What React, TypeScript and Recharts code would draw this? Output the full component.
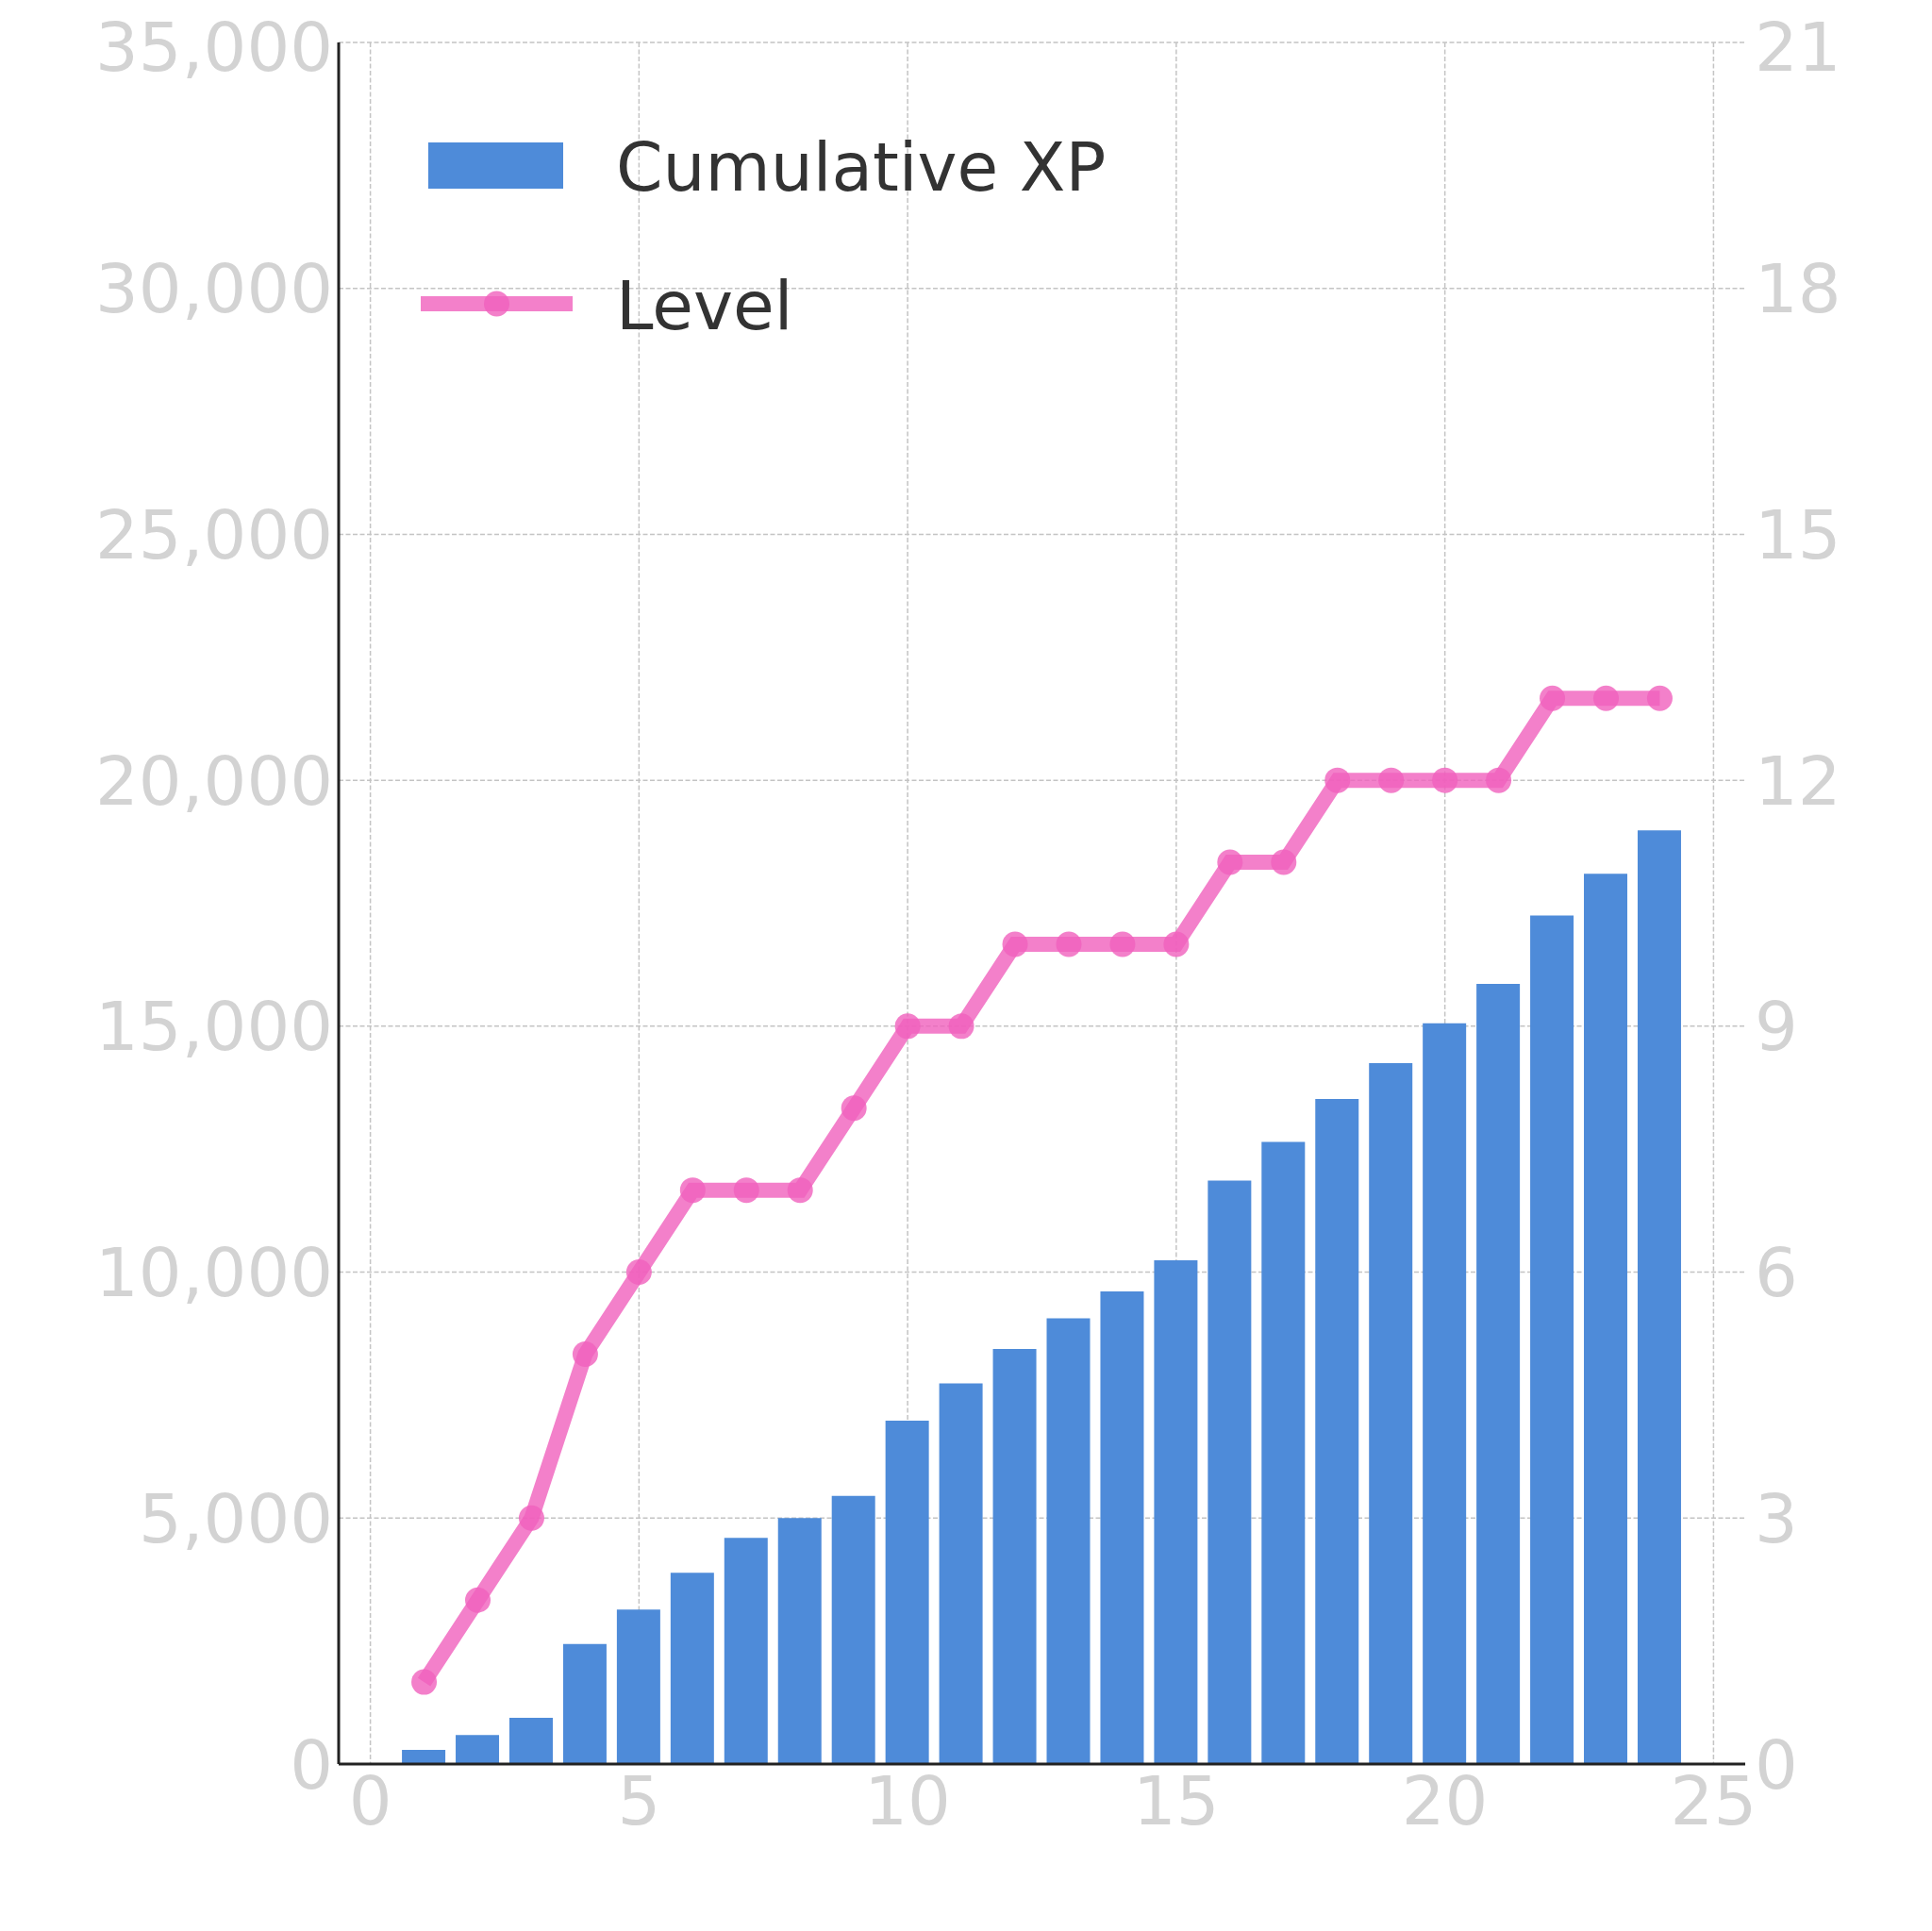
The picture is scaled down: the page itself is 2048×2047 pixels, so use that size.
import { Bar, CartesianGrid, ComposedChart, Legend, Line, XAxis, YAxis } from "recharts";

const LEVELS_X = [1, 2, 3, 4, 5, 6, 7, 8, 9, 10, 11, 12, 13, 14, 15, 16, 17, 18, 19, 20, 21, 22, 23, 24];
const CUMULATIVE_XP = [
  290, 590, 940, 2440, 3140, 3890, 4600, 5000, 5450, 6980, 7740, 8440, 9060, 9610, 10240, 11860, 12650, 13520,
  14250, 15060, 15860, 17250, 18100, 18980,
];
const LEVEL = [1, 2, 3, 5, 6, 7, 7, 7, 8, 9, 9, 10, 10, 10, 10, 11, 11, 12, 12, 12, 12, 13, 13, 13];

const X_TICKS = [0, 5, 10, 15, 20, 25];
const XP_TICKS = [0, 5000, 10000, 15000, 20000, 25000, 30000, 35000];
const LEVEL_TICKS = [0, 3, 6, 9, 12, 15, 18, 21];

const BLUE = "#4e8bd9";
const PINK = "#f060bd";
const TICK = "#d3d3d3";
const FONT = "DejaVu Sans";

const data = LEVELS_X.map((x, i) => ({ x, xp: CUMULATIVE_XP[i], level: LEVEL[i] }));

const tickStyle = { fill: TICK, fontSize: 72, fontFamily: FONT };

function LegendBox({ payload }: any) {
  const items = payload ?? [];
  return (
    <svg width={900} height={260} style={{ display: "block", overflow: "visible" }}>
      {items.map((p: any, i: number) =>
        i === 0 ? (
          <g key={i}>
            <rect x={16} y={13} width={143} height={49} fill={BLUE} />
            <text x={215} y={38} dy="0.36em" fontSize={71} fontFamily={FONT} fill="#333333">
              {p.value}
            </text>
          </g>
        ) : (
          <g key={i}>
            <line x1={8} x2={169} y1={184} y2={184} stroke={PINK} strokeOpacity={0.8} strokeWidth={16} />
            <circle cx={88.5} cy={184} r={13.5} fill={PINK} fillOpacity={0.8} />
            <text x={215} y={185} dy="0.36em" fontSize={71} fontFamily={FONT} fill="#333333">
              {p.value}
            </text>
          </g>
        )
      )}
    </svg>
  );
}

export default function App() {
  return (
    <ComposedChart width={2030} height={2030} data={data} margin={{ top: 37, right: 38, left: 0, bottom: 68 }}>
      <CartesianGrid yAxisId="xp" stroke="#c4c4c4" strokeWidth={1.5} strokeDasharray="5 2.5" syncWithTicks />
      <XAxis
        dataKey="x"
        type="number"
        domain={[-0.59, 25.59]}
        ticks={X_TICKS}
        allowDataOverflow
        height={100}
        tick={tickStyle}
        tickLine={false}
        tickSize={0}
        tickMargin={13}
        axisLine={{ stroke: "#222222", strokeWidth: 3 }}
      />
      <YAxis
        yAxisId="xp"
        orientation="left"
        domain={[0, 35000]}
        ticks={XP_TICKS}
        width={351}
        tick={tickStyle}
        tickLine={false}
        tickSize={0}
        tickMargin={6}
        tickFormatter={(v: number) => v.toLocaleString("en-US")}
        axisLine={{ stroke: "#222222", strokeWidth: 3 }}
      />
      <YAxis
        yAxisId="level"
        orientation="right"
        domain={[0, 21]}
        ticks={LEVEL_TICKS}
        width={150}
        tick={tickStyle}
        tickLine={false}
        tickSize={0}
        tickMargin={10}
        axisLine={false}
      />
      <Legend
        layout="horizontal"
        verticalAlign="middle"
        align="center"
        wrapperStyle={{ left: 430, top: 130, width: 900, height: 260 }}
        content={<LegendBox />}
      />
      <Bar yAxisId="xp" dataKey="xp" name="Cumulative XP" fill={BLUE} barSize={46} isAnimationActive={false} />
      <Line
        yAxisId="level"
        dataKey="level"
        name="Level"
        type="linear"
        stroke={PINK}
        strokeOpacity={0.8}
        strokeWidth={16}
        dot={{ r: 13.5, fill: PINK, fillOpacity: 0.8, stroke: "none" }}
        activeDot={false}
        isAnimationActive={false}
      />
    </ComposedChart>
  );
}
